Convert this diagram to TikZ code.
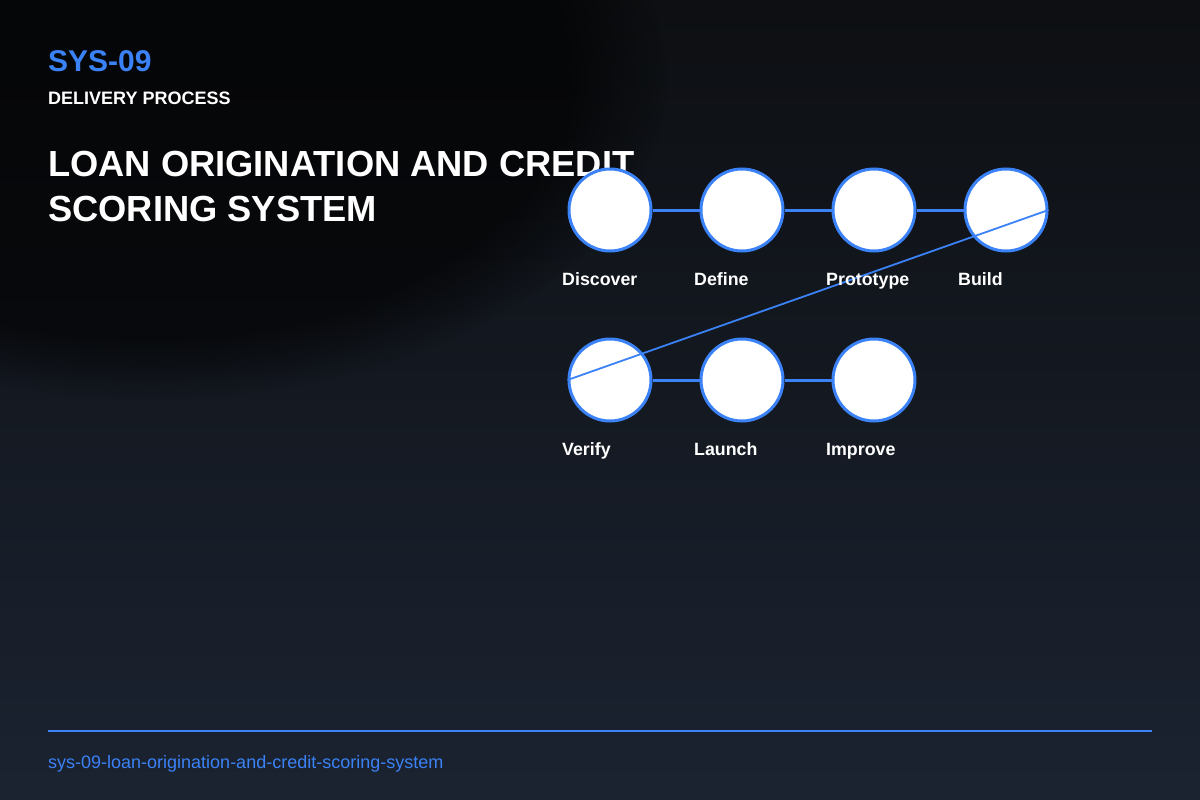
\documentclass[tikz,border=0pt]{standalone}
\usepackage{fontspec}
\setmainfont{Liberation Sans}
\usetikzlibrary{fadings}
\definecolor{accent}{HTML}{3B82F6}
\definecolor{bgtop}{HTML}{0D0F12}
\definecolor{bgbot}{HTML}{1B2331}
\tikzset{
  stage/.style={circle, minimum size=82bp, inner sep=0pt, draw=accent, line width=3bp, fill=white},
  link/.style={draw=accent, line width=3bp},
  longlink/.style={draw=accent, line width=1.8bp},
  steplabel/.style={anchor=base west, inner sep=0pt, text=white, font=\fontsize{17.8bp}{20bp}\selectfont\bfseries},
}
\begin{document}
\begin{tikzpicture}[x=1bp,y=-1bp]
\useasboundingbox (0,0) rectangle (1200,800);
\begin{scope}
\clip (0,0) rectangle (1200,800);
\shade[top color=bgtop, bottom color=bgbot] (0,0) rectangle (1200,800);
\fill[black, opacity=0.6, path fading=circle with fuzzy edge 20 percent] (150,80) ellipse [x radius=520, y radius=320];
\end{scope}
% header
\node[anchor=base west, inner sep=0pt, text=accent, font=\fontsize{30bp}{34bp}\selectfont\bfseries] (code) at (48,71.5) {SYS-09};
\node[anchor=base west, inner sep=0pt, text=white, font=\fontsize{18bp}{21bp}\selectfont\bfseries] (kind) at (48,105) {DELIVERY PROCESS};
\node[anchor=base west, inner sep=0pt, text=white, font=\fontsize{36.3bp}{40bp}\selectfont\bfseries] (title1) at (48,176.5) {LOAN ORIGINATION AND CREDIT};
\node[anchor=base west, inner sep=0pt, text=white, font=\fontsize{36.3bp}{40bp}\selectfont\bfseries] (title2) at (48,221) {SCORING SYSTEM};
% stages
\node[stage] (discover) at (610,210) {};
\node[stage] (define) at (742,210) {};
\node[stage] (prototype) at (874,210) {};
\node[stage] (build) at (1006,210) {};
\node[stage] (verify) at (610,380) {};
\node[stage] (launch) at (742,380) {};
\node[stage] (improve) at (874,380) {};
\draw[link] (discover) -- (define);
\draw[link] (define) -- (prototype);
\draw[link] (prototype) -- (build);
\draw[link] (verify) -- (launch);
\draw[link] (launch) -- (improve);
\draw[longlink] (build.east) -- (verify.west);
% labels
\node[steplabel] (l-discover) at (562,285) {Discover};
\node[steplabel] (l-define) at (694,285) {Define};
\node[steplabel] (l-prototype) at (826,285) {Prototype};
\node[steplabel] (l-build) at (958,285) {Build};
\node[steplabel] (l-verify) at (562,455) {Verify};
\node[steplabel] (l-launch) at (694,455) {Launch};
\node[steplabel] (l-improve) at (826,455) {Improve};
% footer
\coordinate (rule-a) at (48,731);
\coordinate (rule-b) at (1152,731);
\draw[draw=accent, line width=2bp] (rule-a) -- (rule-b);
\node[anchor=base west, inner sep=0pt, text=accent, font=\fontsize{18bp}{21bp}\selectfont] (slug) at (48,768.5) {sys-09-loan-origination-and-credit-scoring-system};
\end{tikzpicture}
\end{document}
